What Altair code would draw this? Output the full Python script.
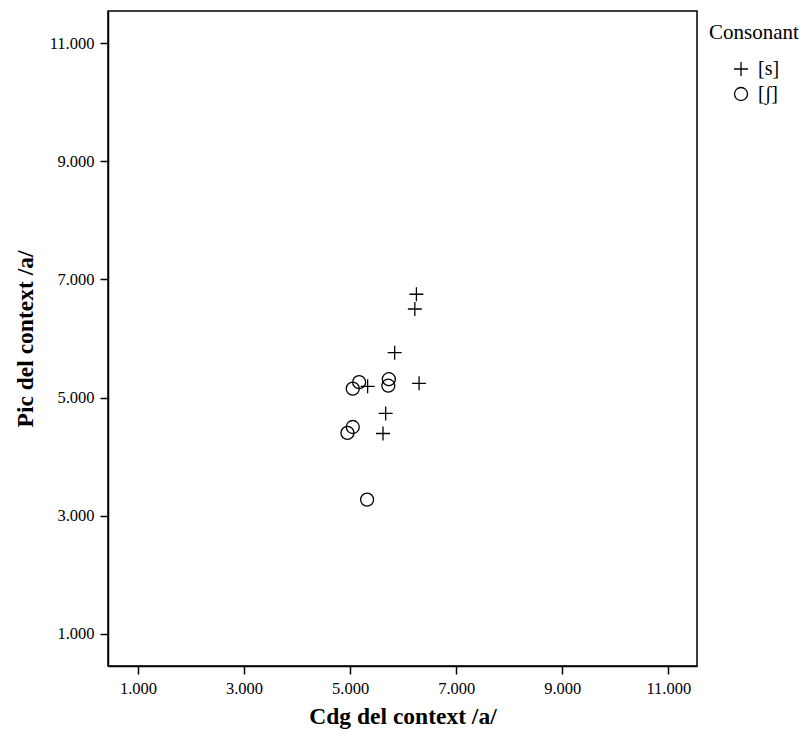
import altair as alt
import pandas as pd

# Data (Hz)
s_x = [6250, 6220, 5840, 5330, 6300, 5670, 5620]
s_y = [6750, 6500, 5760, 5190, 5240, 4730, 4390]
sh_x = [5170, 5050, 5730, 5720, 5050, 4950, 5320]
sh_y = [5260, 5150, 5310, 5200, 4500, 4400, 3270]
categories = ["[s]", "[ʃ]"]
tick_values = [1000, 3000, 5000, 7000, 9000, 11000]

df = pd.DataFrame({
    "x": s_x + sh_x,
    "y": s_y + sh_y,
    "Consonant": [categories[0]] * len(s_x) + [categories[1]] * len(sh_x),
})

font = "Liberation Serif"
plus_path = "M-1,0L1,0M0,-1L0,1"
circle_path = "M0.93,0A0.93,0.93 0 1,1 -0.93,0A0.93,0.93 0 1,1 0.93,0Z"
lab = "format(datum.value/1000, '.3f')"

chart = alt.Chart(df).mark_point(
    filled=False, stroke="black", strokeWidth=1.3, opacity=1, size=196
).encode(
    x=alt.X("x:Q", scale=alt.Scale(domain=[435, 11540], nice=False, zero=False),
            axis=alt.Axis(values=tick_values, title="Cdg del context /a/", labelExpr=lab)),
    y=alt.Y("y:Q", scale=alt.Scale(domain=[450, 11550], nice=False, zero=False),
            axis=alt.Axis(values=tick_values, title="Pic del context /a/", labelExpr=lab)),
    shape=alt.Shape("Consonant:N",
                    scale=alt.Scale(domain=categories, range=[plus_path, circle_path]),
                    legend=alt.Legend(title="Consonant", orient="none", legendX=601, legendY=11)),
).properties(
    width=589, height=655,
    background="white",
    autosize=alt.AutoSizeParams(type="none"),
    padding={"left": 100, "top": 3, "right": 104, "bottom": 66},
).configure_view(
    stroke="black", strokeWidth=1.5
).configure_axis(
    domain=True, domainColor="black", domainWidth=1.5,
    grid=False, ticks=True, tickColor="black", tickSize=8, tickWidth=1.5,
    labelFont=font, labelFontSize=16.5, labelColor="black", labelPadding=6,
    titleFont=font, titleFontSize=23.5, titleFontWeight="bold", titleColor="black",
).configure_axisX(
    titlePadding=8
).configure_axisY(
    titlePadding=12
).configure_legend(
    titleFont=font, titleFontSize=21, titleFontWeight="normal", titleColor="black",
    labelFont=font, labelFontSize=20, labelColor="black",
    symbolStrokeColor="black", symbolFillColor="transparent", symbolStrokeWidth=1.3,
    symbolSize=196,
    padding=0, rowPadding=5, titlePadding=16, labelOffset=7,
    symbolOffset=22
)

chart.save("out.html", embed_options={"renderer": "svg", "actions": False})
